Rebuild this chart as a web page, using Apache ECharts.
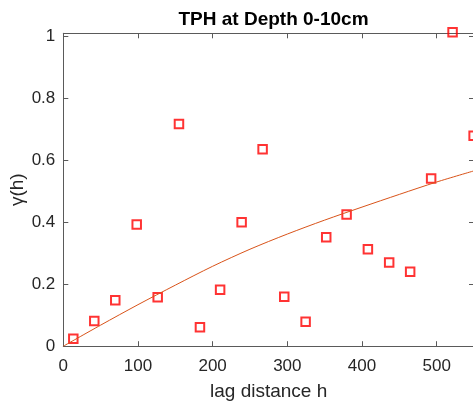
<!DOCTYPE html>
<html>
<head>
<meta charset="utf-8">
<script src="https://cdn.jsdelivr.net/npm/echarts@6/dist/echarts.min.js"></script>
<style>
html,body{margin:0;padding:0;background:#fff;}
#chart{width:473px;height:403px;}
</style>
</head>
<body>
<div id="chart"></div>
<script>
// Experimental semivariogram (lag distance h, gamma(h))
var lagDistance = [13.4, 41.5, 69.6, 98.3, 126.4, 154.9, 183.0, 210.0, 238.8, 266.9, 295.9, 324.5, 352.1, 379.4, 407.9, 436.4, 464.5, 492.6, 521.3, 549.5];
var gammaValues = [0.024, 0.081, 0.148, 0.393, 0.158, 0.717, 0.061, 0.182, 0.400, 0.636, 0.160, 0.079, 0.352, 0.425, 0.313, 0.270, 0.240, 0.541, 1.013, 0.679];
// Fitted model curve
var modelH = [0, 50, 100, 150, 200, 250, 300, 350, 400, 450, 500, 550];
var modelGamma = [0, 0.068, 0.134, 0.197, 0.258, 0.313, 0.362, 0.407, 0.449, 0.490, 0.530, 0.566];
var xTicks = [0, 100, 200, 300, 400, 500];
var yTicks = [0, 0.2, 0.4, 0.6, 0.8, 1];

var titleText = 'TPH at Depth 0-10cm';
var xName = 'lag distance h';
var yName = 'γ(h)';

var X_MIN = 0, X_MAX = 550, Y_MIN = 0, Y_MAX = 1.01;

function near(list, v) {
  for (var i = 0; i < list.length; i++) { if (Math.abs(list[i] - v) < 1e-6) return true; }
  return false;
}

var axisColor = '#5a5a5a';
var textColor = '#262626';
var fontFam = '"Liberation Sans", Arial, Helvetica, sans-serif';

var chart = echarts.init(document.getElementById('chart'), null, {renderer: 'canvas'});
var scatterData = lagDistance.map(function (h, i) { return [h, gammaValues[i]]; });
var modelData = modelH.map(function (h, i) { return [h, modelGamma[i]]; });

chart.setOption({
  animation: false,
  backgroundColor: '#ffffff',
  title: {
    text: titleText,
    left: 268.5,
    textAlign: 'center',
    top: 5,
    textStyle: {fontFamily: fontFam, fontSize: 19, fontWeight: 'bold', color: '#000'}
  },
  grid: {left: 63.3, top: 33.3, right: -1, bottom: 56.8, containLabel: false, outerBoundsMode: 'none'},
  xAxis: [{
    type: 'value', min: X_MIN, max: X_MAX, interval: 100, position: 'bottom',
    name: xName, nameLocation: 'middle', nameGap: 36, nameMoveOverlap: false,
    nameTextStyle: {fontFamily: fontFam, fontSize: 19, color: textColor},
    axisLine: {show: true, lineStyle: {color: axisColor, width: 1}},
    axisTick: {show: true, inside: true, length: 5, lineStyle: {color: axisColor}},
    axisLabel: {margin: 12, fontFamily: fontFam, fontSize: 17, color: textColor,
      formatter: function (v) { return near(xTicks, v) ? String(v) : ''; }},
    splitLine: {show: false}
  }, {
    type: 'value', min: X_MIN, max: X_MAX, interval: 100, position: 'top',
    axisLine: {show: true, onZero: false, lineStyle: {color: axisColor, width: 1}},
    axisTick: {show: true, inside: true, length: 5, lineStyle: {color: axisColor}},
    axisLabel: {show: false}, splitLine: {show: false}
  }],
  yAxis: [{
    type: 'value', min: Y_MIN, max: Y_MAX, interval: 0.2, position: 'left',
    name: yName, nameLocation: 'middle', nameGap: 36, nameMoveOverlap: false,
    nameTextStyle: {fontFamily: fontFam, fontSize: 19, color: textColor},
    axisLine: {show: true, lineStyle: {color: axisColor, width: 1}},
    axisTick: {show: true, inside: true, length: 5, lineStyle: {color: axisColor}},
    axisLabel: {margin: 8, fontFamily: fontFam, fontSize: 17, color: textColor,
      formatter: function (v) { return near(yTicks, v) ? String(Math.round(v * 10) / 10) : ''; }},
    splitLine: {show: false}
  }, {
    type: 'value', min: Y_MIN, max: Y_MAX, interval: 0.2, position: 'right',
    axisLine: {show: true, onZero: false, lineStyle: {color: axisColor, width: 1}},
    axisTick: {show: true, inside: true, length: 5, lineStyle: {color: axisColor}},
    axisLabel: {show: false}, splitLine: {show: false}
  }],
  series: [{
    type: 'scatter',
    xAxisIndex: 0, yAxisIndex: 0,
    data: scatterData,
    symbol: 'rect',
    symbolSize: 8.5,
    clip: false,
    itemStyle: {color: 'rgba(255,255,255,0)', borderColor: '#ff0000', borderWidth: 2}
  }, {
    type: 'line',
    xAxisIndex: 0, yAxisIndex: 0,
    data: modelData,
    smooth: 0.3,
    showSymbol: false,
    symbol: 'none',
    clip: false,
    lineStyle: {color: '#D95319', width: 1}
  }]
});
</script>
</body>
</html>
